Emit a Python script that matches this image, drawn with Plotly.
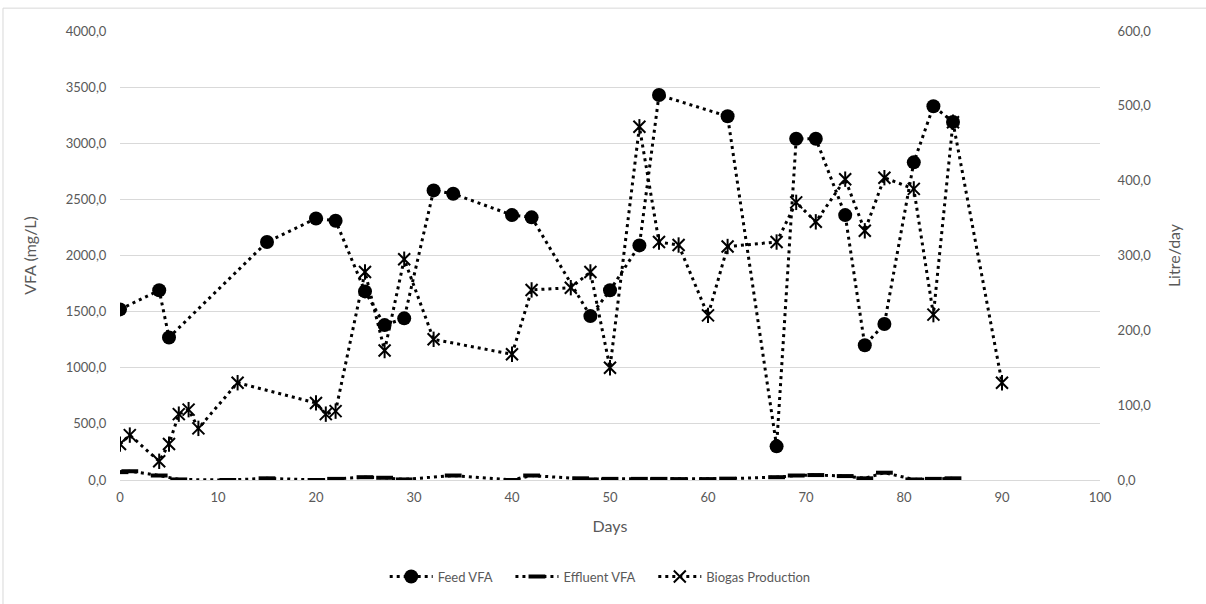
import plotly.graph_objects as go

feed_days = [0, 4, 5, 15, 20, 22, 25, 27, 29, 32, 34, 40, 42, 48, 50, 53, 55, 62, 67, 69, 71, 74, 76, 78, 81, 83, 85]
feed_vfa = [1520, 1690, 1270, 2120, 2330, 2310, 1680, 1380, 1440, 2580, 2550, 2360, 2340, 1460, 1690, 2090, 3430, 3240, 300, 3040, 3040, 2360, 1200, 1390, 2830, 3330, 3190]

eff_days = [0, 1, 4, 6, 11, 15, 20, 22, 25, 27, 29, 34, 40, 42, 47, 48, 50, 53, 55, 57, 60, 62, 67, 69, 71, 74, 76, 78, 81, 83, 85]
eff_vfa = [70, 78, 40, 5, 0, 15, 0, 10, 25, 20, 5, 40, 0, 40, 15, 5, 10, 10, 10, 8, 8, 12, 25, 40, 44, 35, 15, 65, 5, 10, 15]

gas_days = [0, 1, 4, 5, 6, 7, 8, 12, 20, 21, 22, 25, 27, 29, 32, 40, 42, 46, 48, 50, 53, 55, 57, 60, 62, 67, 69, 71, 74, 76, 78, 81, 83, 85, 90]
gas_prod = [48, 60, 25, 48, 88, 94, 69, 130, 103, 88, 92, 278, 173, 295, 188, 168, 254, 257, 278, 150, 472, 318, 314, 220, 312, 318, 371, 345, 402, 333, 404, 389, 221, 478, 130]

series_names = ["Feed VFA", "Effluent VFA", "Biogas Production"]

FONT = "Lato"
GRAY = "#595959"
dash = "3px,4px"
NOTICK = "rgba(0,0,0,0)"
PAD = "\u00a0" * 4

fig = go.Figure()
fig.add_trace(go.Scatter(
    x=feed_days, y=feed_vfa, name=series_names[0] + PAD, mode="lines+markers",
    line=dict(color="black", width=3, dash=dash),
    marker=dict(symbol="circle", size=14, color="black"),
))
fig.add_trace(go.Scatter(
    x=eff_days, y=eff_vfa, name=series_names[1] + PAD, mode="lines+markers",
    line=dict(color="black", width=3, dash=dash),
    marker=dict(symbol="line-ew", size=12, color="black", line=dict(color="black", width=4)),
))
fig.add_trace(go.Scatter(
    x=gas_days, y=gas_prod, name=series_names[2], mode="lines+markers", yaxis="y2",
    line=dict(color="black", width=3, dash=dash),
    marker=dict(symbol="x-thin-open", size=12, color="black", line=dict(color="black", width=2)),
))
fig.add_trace(go.Scatter(
    x=gas_days, y=gas_prod, mode="markers", yaxis="y2", showlegend=False, hoverinfo="skip",
    marker=dict(symbol="line-ns-open", size=11, color="black", line=dict(color="black", width=2)),
))

fig.update_layout(
    width=1206, height=604,
    margin=dict(l=120, r=106, t=31, b=121),
    paper_bgcolor="white", plot_bgcolor="white",
    separators=", ",
    font=dict(family=FONT, size=13, color=GRAY),
    xaxis=dict(
        range=[0, 100], tickvals=list(range(0, 101, 10)), showgrid=False, zeroline=False,
        showline=True, linecolor="#d9d9d9", linewidth=1,
        title=dict(text="Days", standoff=17), ticks="outside", ticklen=5, tickcolor=NOTICK,
        tickfont=dict(size=13, color=GRAY),
    ),
    yaxis=dict(
        range=[0, 4000], dtick=500, tickformat=".1f", showgrid=True, gridcolor="#d9d9d9",
        zeroline=False, title=dict(text="VFA (mg/L)", standoff=25),
        ticks="outside", ticklen=10, tickcolor=NOTICK,
    ),
    yaxis2=dict(
        range=[0, 600], dtick=100, tickformat=".1f", overlaying="y", side="right",
        showgrid=False, zeroline=False, title=dict(text="Litre/day", standoff=18),
        ticks="outside", ticklen=14, tickcolor=NOTICK,
    ),
    legend=dict(orientation="h", x=0.49, xanchor="center", y=-0.215, yanchor="middle",
                font=dict(size=13, color=GRAY), itemwidth=43),
    shapes=[dict(type="rect", xref="paper", yref="paper", x0=-0.1194, x1=1.2, y0=-0.5, y1=1.0509,
                 line=dict(color="#d9d9d9", width=1), fillcolor="rgba(0,0,0,0)", layer="below")],
)

fig.write_html("out.html", config={"displayModeBar": False},
               post_script="document.body.style.margin='0px';")
